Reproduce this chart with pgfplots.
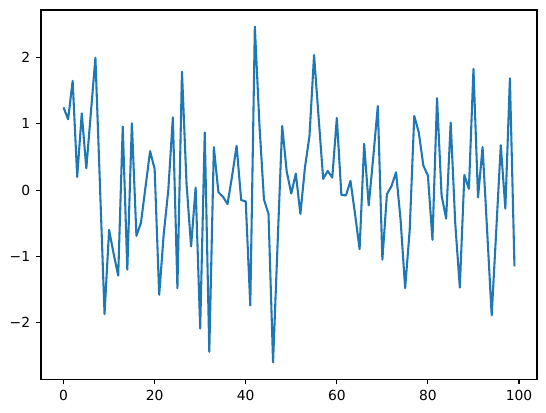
\documentclass[border=0pt]{standalone}
\usepackage{fontspec}
\setmainfont{DejaVu Sans}
\usepackage{pgfplots}
\pgfplotsset{compat=1.18}
\definecolor{mplblue}{HTML}{1F77B4}

\begin{document}
\begin{tikzpicture}[x=0.75pt,y=0.75pt]
\begin{axis}[
    scale only axis,
    width=372pt, height=277.2pt,
    xmin=-4.95, xmax=103.95,
    ymin=-2.86, ymax=2.72,
    xtick={0,20,40,60,80,100},
    ytick={-2,-1,0,1,2},
    yticklabels={−2,−1,0,1,2},
    tick align=outside,
    major tick length=3.65pt,
    tick style={black, line width=0.83pt},
    axis line style={line width=0.83pt},
    xtick pos=bottom, ytick pos=left,
    minor tick num=0,
    /pgf/number format/assume math mode=true,
    tick label style={font=\fontsize{10.4}{12}\selectfont},
    xticklabel style={yshift=-1pt},
    yticklabel style={xshift=-1pt},
]
\addplot[color=mplblue, line width=1.56pt, line join=round] coordinates {
(0,1.25)(1,1.07)(2,1.65)(3,0.20)(4,1.16)(5,0.33)(6,1.17)(7,2.00)(8,0.06)(9,-1.87)
(10,-0.60)(11,-0.96)(12,-1.29)(13,0.96)(14,-1.20)(15,1.01)(16,-0.69)(17,-0.49)(18,0.05)(19,0.59)
(20,0.32)(21,-1.58)(22,-0.66)(23,0.00)(24,1.10)(25,-1.48)(26,1.79)(27,0.10)(28,-0.85)(29,0.04)
(30,-2.09)(31,0.87)(32,-2.44)(33,0.65)(34,-0.03)(35,-0.10)(36,-0.21)(37,0.21)(38,0.67)(39,-0.15)
(40,-0.17)(41,-1.74)(42,2.47)(43,1.00)(44,-0.14)(45,-0.36)(46,-2.60)(47,-0.80)(48,0.97)(49,0.28)
(50,-0.05)(51,0.25)(52,-0.36)(53,0.34)(54,0.82)(55,2.04)(56,1.10)(57,0.17)(58,0.29)(59,0.19)
(60,1.09)(61,-0.07)(62,-0.08)(63,0.14)(64,-0.36)(65,-0.89)(66,0.70)(67,-0.23)(68,0.50)(69,1.27)
(70,-1.05)(71,-0.06)(72,0.06)(73,0.27)(74,-0.45)(75,-1.48)(76,-0.60)(77,1.12)(78,0.87)(79,0.37)
(80,0.22)(81,-0.75)(82,1.39)(83,-0.08)(84,-0.43)(85,1.02)(86,-0.50)(87,-1.47)(88,0.23)(89,0.02)
(90,1.83)(91,-0.11)(92,0.65)(93,-0.61)(94,-1.89)(95,-0.61)(96,0.68)(97,-0.28)(98,1.69)(99,-1.15)
};
\end{axis}
\path (current axis.south west) ++(-30.75pt,-24.75pt) rectangle ([shift={(6.75pt,7.5pt)}]current axis.north east);
\end{tikzpicture}
\end{document}
